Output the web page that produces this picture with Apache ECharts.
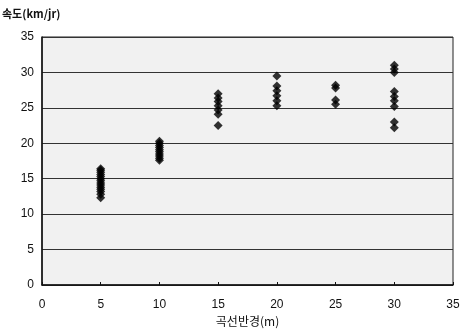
<!DOCTYPE html>
<html>
<head>
<meta charset="utf-8">
<script src="https://cdn.jsdelivr.net/npm/echarts@6/dist/echarts.min.js"></script>
<style>
  html, body { margin: 0; padding: 0; background: #fff; }
  #chart { width: 460px; height: 332px; }
</style>
</head>
<body>
<div id="chart"></div>
<script>
// 곡선반경별 속도 측정값
const radius5 = [12.3, 12.8, 13.2, 13.5, 13.8, 14.1, 14.4, 14.7, 15.0, 15.3, 15.6, 15.9, 16.2, 16.4];
const radius10 = [17.6, 17.9, 18.2, 18.5, 18.8, 19.1, 19.4, 19.7, 20.0, 20.3];
const radius15 = [27.0, 26.4, 25.9, 25.3, 24.7, 24.1, 22.5];
const radius20 = [29.5, 28.1, 27.4, 26.7, 26.0, 25.3];
const radius25 = [28.2, 27.8, 26.1, 25.5];
const radius30 = [31.0, 30.5, 30.0, 27.3, 26.6, 26.0, 25.2, 23.0, 22.2];
const radiusValues = [5, 10, 15, 20, 25, 30];
const speedGroups = [radius5, radius10, radius15, radius20, radius25, radius30];

const points = [];
speedGroups.forEach((arr, i) => {
  arr.forEach(v => points.push([radiusValues[i], v]));
});

const chart = echarts.init(document.getElementById('chart'));
const font = 'Liberation Sans, Arial, sans-serif';
chart.setOption({
  animation: false,
  grid: { left: 42, right: 7, top: 37, bottom: 47, show: true,
    outerBoundsMode: 'none', containLabel: false,
    backgroundColor: '#f1f1f1', borderColor: '#222', borderWidth: 1 },
  xAxis: {
    type: 'value', min: 0, max: 35, interval: 5,
    name: '곡선반경(m)', nameLocation: 'middle', nameGap: 30,
    nameTextStyle: { color: '#111', fontSize: 12, fontFamily: 'Noto Sans CJK KR' },
    axisLine: { show: true, lineStyle: { color: '#111', width: 1.5 } },
    axisTick: { show: true, inside: true, length: 3, lineStyle: { color: '#111' } },
    axisLabel: { color: '#111', fontSize: 12, fontFamily: font, margin: 14 },
    splitLine: { show: false }
  },
  yAxis: {
    type: 'value', min: 0, max: 35, interval: 5,
    name: '속도(km/jr)', nameLocation: 'end', nameGap: 18,
    nameTextStyle: { color: '#111', fontSize: 11, fontWeight: 'bold', fontFamily: 'Noto Sans CJK KR', align: 'left', padding: [0, 0, 0, -40] },
    axisLine: { show: true, lineStyle: { color: '#111', width: 1.5 } },
    axisTick: { show: false },
    axisLabel: { color: '#111', fontSize: 12, fontFamily: font, margin: 8 },
    splitLine: { show: true, lineStyle: { color: '#333', width: 1 } }
  },
  series: [{
    type: 'scatter',
    symbol: 'diamond',
    symbolSize: 9,
    itemStyle: { color: '#000' },
    data: points
  }]
});
</script>
</body>
</html>
